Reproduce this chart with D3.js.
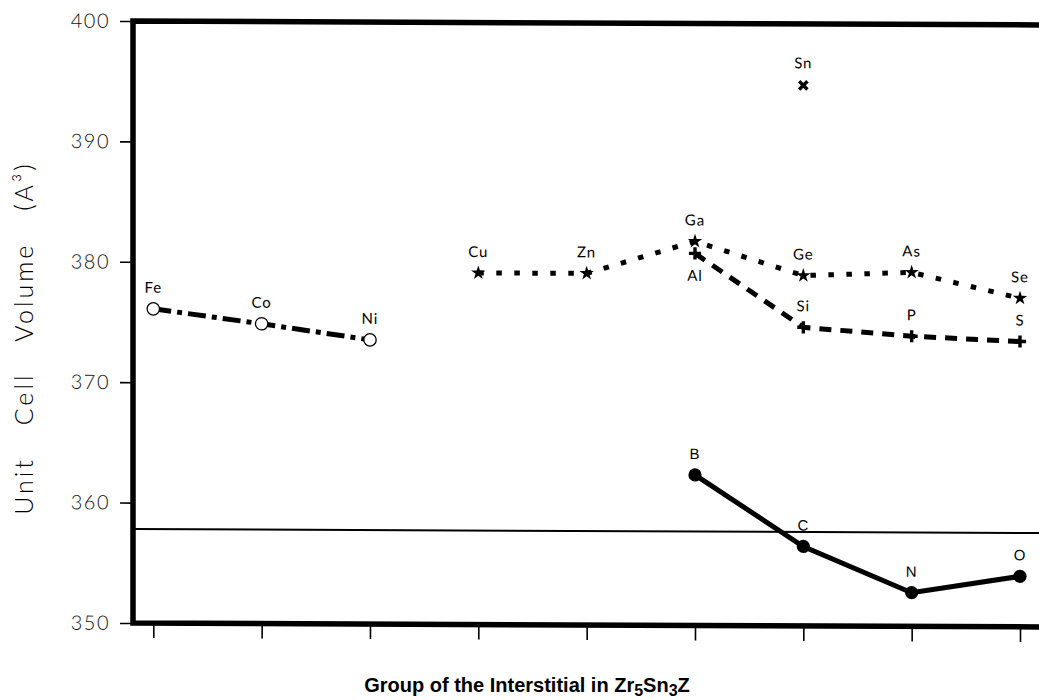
<!DOCTYPE html>
<html>
<head>
<meta charset="utf-8">
<script src="https://cdn.jsdelivr.net/npm/d3@7"></script>
<style>
  html, body { margin: 0; padding: 0; background: #fff; }
  svg { display: block; }
</style>
</head>
<body>
<div id="chart"></div>
<script>
// periodic group of the interstitial (one tick each)
var columns = [8, 9, 10, 11, 12, 13, 14, 15, 16];
var yTicks = [350, 360, 370, 380, 390, 400];

// Fe, Co, Ni  (open circles, dash-dot)
var ironNames = ['Fe', 'Co', 'Ni'];
var ironGroups = [8, 9, 10];
var ironValues = [376.1, 374.9, 373.6];

// Cu ... Se  (stars, dotted)
var starNames = ['Cu', 'Zn', 'Ga', 'Ge', 'As', 'Se'];
var starGroups = [11, 12, 13, 14, 15, 16];
var starValues = [379.2, 379.2, 381.9, 379.1, 379.4, 377.3];

// Al, Si, P, S  (plus, dashed)
var plusNames = ['Al', 'Si', 'P', 'S'];
var plusGroups = [13, 14, 15, 16];
var plusValues = [380.9, 374.8, 374.1, 373.7];

// B, C, N, O  (filled circles, solid)
var dotNames = ['B', 'C', 'N', 'O'];
var dotGroups = [13, 14, 15, 16];
var dotValues = [362.5, 356.6, 352.8, 354.2];

// Sn (cross, no line)
var tinNames = ['Sn'];
var tinGroups = [14];
var tinValues = [394.9];

var emptyValue = 357.8;   // Zr5Sn3 without interstitial

var W = 1039, H = 700;
var box = { left: 133, top: 21, bottom: 623, right: 1046 };

var svg = d3.select('#chart').append('svg')
  .attr('width', W)
  .attr('height', H);

// the scanned figure is slightly tilted
var g = svg.append('g')
  .attr('transform', 'translate(' + box.left + ',0) skewY(0.25) translate(' + (-box.left) + ',0)');

var x = d3.scalePoint().domain(columns).range([153.3, 1020]);
var y = d3.scaleLinear().domain([350, 400]).range([box.bottom, box.top]);

// y axis ticks
var yAxis = g.append('g')
  .attr('transform', 'translate(' + box.left + ',0)')
  .call(d3.axisLeft(y).tickValues(yTicks).tickSize(13).tickPadding(10));
yAxis.select('.domain').remove();
yAxis.selectAll('line').attr('stroke', '#000').attr('stroke-width', 1.6);
yAxis.selectAll('text')
  .attr('fill', '#111')
  .style('font-family', 'Lato, "DejaVu Sans", sans-serif')
  .style('font-weight', 300)
  .style('font-size', '20px')
  .style('letter-spacing', '1.5px');

// x axis ticks (no labels)
var xAxis = g.append('g')
  .attr('transform', 'translate(0,' + (box.bottom + 2) + ')')
  .call(d3.axisBottom(x).tickSize(13).tickFormat(''));
xAxis.select('.domain').remove();
xAxis.selectAll('line').attr('stroke', '#000').attr('stroke-width', 1.6);

// reference line
g.append('line')
  .attr('x1', box.left).attr('x2', box.right)
  .attr('y1', y(emptyValue)).attr('y2', y(emptyValue))
  .attr('stroke', '#000').attr('stroke-width', 2);

// frame
g.append('path')
  .attr('d', 'M' + box.right + ',' + box.top + 'H' + box.left + 'V' + box.bottom + 'H' + box.right)
  .attr('fill', 'none')
  .attr('stroke', '#000')
  .attr('stroke-width', 5.5)
  .attr('stroke-linejoin', 'miter');

function zip(names, groups, values) {
  return names.map(function(n, i) { return { name: n, group: groups[i], value: values[i] }; });
}

var line = d3.line()
  .x(function(d) { return x(d.group); })
  .y(function(d) { return y(d.value); });

var iron = zip(ironNames, ironGroups, ironValues),
    stars = zip(starNames, starGroups, starValues),
    plus = zip(plusNames, plusGroups, plusValues),
    dots = zip(dotNames, dotGroups, dotValues),
    tin = zip(tinNames, tinGroups, tinValues);

g.append('path').datum(iron).attr('d', line)
  .attr('fill', 'none').attr('stroke', '#000').attr('stroke-width', 5)
  .attr('stroke-dasharray', '18,6,5,6');
g.append('path').datum(stars).attr('d', line)
  .attr('fill', 'none').attr('stroke', '#000').attr('stroke-width', 5)
  .attr('stroke-dasharray', '5.5,12.5');
g.append('path').datum(plus).attr('d', line)
  .attr('fill', 'none').attr('stroke', '#000').attr('stroke-width', 5)
  .attr('stroke-dasharray', '12,9');
g.append('path').datum(dots).attr('d', line)
  .attr('fill', 'none').attr('stroke', '#000').attr('stroke-width', 5);

function pos(d) { return 'translate(' + x(d.group) + ',' + y(d.value) + ')'; }

g.selectAll('.iron').data(iron).enter().append('circle')
  .attr('cx', function(d) { return x(d.group); })
  .attr('cy', function(d) { return y(d.value); })
  .attr('r', 6.2)
  .attr('fill', '#fff').attr('stroke', '#000').attr('stroke-width', 1.3);

g.selectAll('.dot').data(dots).enter().append('circle')
  .attr('cx', function(d) { return x(d.group); })
  .attr('cy', function(d) { return y(d.value); })
  .attr('r', 6.6)
  .attr('fill', '#000');

g.selectAll('.star').data(stars).enter().append('path')
  .attr('transform', pos)
  .attr('d', d3.symbol(d3.symbolStar, 64))
  .attr('fill', '#000');

g.selectAll('.plus').data(plus).enter().append('path')
  .attr('transform', pos)
  .attr('d', d3.symbol(d3.symbolPlus, 50))
  .attr('fill', 'none').attr('stroke', '#000').attr('stroke-width', 3.4);

g.selectAll('.tin').data(tin).enter().append('path')
  .attr('transform', pos)
  .attr('d', d3.symbol(d3.symbolTimes, 46))
  .attr('fill', 'none').attr('stroke', '#000').attr('stroke-width', 3.4);

// element labels
function labels(data, dy, font) {
  g.selectAll(null).data(data).enter().append('text')
    .attr('x', function(d) { return x(d.group); })
    .attr('y', function(d) { return y(d.value) + dy; })
    .attr('text-anchor', 'middle')
    .style('font-family', font)
    .style('font-size', '15px')
    .style('letter-spacing', '1px')
    .text(function(d) { return d.name; });
}
var roundFont = 'Lato, "DejaVu Sans", sans-serif';
labels(iron, -16, roundFont);
labels(stars, -16, roundFont);
labels(plus.filter(function(d) { return d.name !== 'Al'; }), -16, roundFont);
labels(plus.filter(function(d) { return d.name === 'Al'; }), 27.5, roundFont);
labels(tin, -17, roundFont);
labels(dots, -16, '"Liberation Sans", Arial, sans-serif');

// axis titles
svg.append('text')
  .attr('transform', 'translate(33,338) rotate(-90)')
  .attr('text-anchor', 'middle')
  .style('font-family', roundFont)
  .style('font-weight', 300)
  .style('font-size', '25px')
  .style('letter-spacing', '3px')
  .style('word-spacing', '22px')
  .text('Unit Cell Volume (A\u00b3)');

var xt = svg.append('text')
  .attr('x', 527)
  .attr('y', 692)
  .attr('text-anchor', 'middle')
  .style('font-family', '"Liberation Sans", Arial, sans-serif')
  .style('font-weight', 'bold')
  .style('font-size', '20px');
xt.append('tspan').text('Group of the Interstitial in Zr');
xt.append('tspan').attr('dy', 4).style('font-size', '16px').text('5');
xt.append('tspan').attr('dy', -4).text('Sn');
xt.append('tspan').attr('dy', 4).style('font-size', '16px').text('3');
xt.append('tspan').attr('dy', -4).text('Z');
</script>
</body>
</html>
